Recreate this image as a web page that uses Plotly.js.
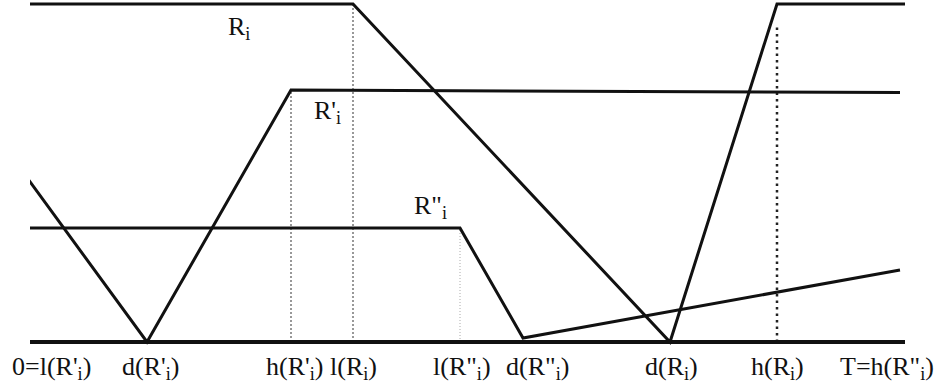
<!DOCTYPE html>
<html>
<head>
<meta charset="utf-8">
<script src="https://cdn.plot.ly/plotly-3.0.1.min.js"></script>
<style>html,body{margin:0;padding:0;background:#fff;}#chart{width:938px;height:385px;}</style>
</head>
<body>
<div id="chart"></div>
<script>
// Event times on the horizontal time axis (arbitrary units)
const eventTimes = [0, 117, 261, 323, 430, 493, 640, 747, 875];
const tickLabels = [
  "0=l(R'<sub>i</sub>)", "d(R'<sub>i</sub>)", "h(R'<sub>i</sub>)", "l(R<sub>i</sub>)",
  "l(R\"<sub>i</sub>)", "d(R\"<sub>i</sub>)", "d(R<sub>i</sub>)", "h(R<sub>i</sub>)",
  "T=h(R\"<sub>i</sub>)"
];

// Series R_i
const rTimes = [0, 323, 640, 747, 875];
const rValues = [338, 338, 0, 338, 338];
// Series R'_i
const rpTimes = [-2, 117, 261, 870];
const rpValues = [163, 0, 252, 249.5];
// Series R''_i
const rppTimes = [0, 430, 493, 870];
const rppValues = [114, 114, 4, 72];

// Dotted guide lines (time, height)
const guideTimes = [261, 323, 430, 747];
const guideHeights = [252, 338, 114, 317];

const seriesNames = ["R<sub>i</sub>", "R'<sub>i</sub>", "R\"<sub>i</sub>"];

const FONT = "'Liberation Serif', 'Times New Roman', Times, serif";

const guideStyles = [
  {color: '#777', width: 1.5, dash: '2px,2px'},
  {color: '#777', width: 1.5, dash: '2px,2px'},
  {color: '#aaa', width: 1, dash: '1px,2px'},
  {color: '#222', width: 2.5, dash: '2.5px,4px'}
];

const traces = [];
guideTimes.forEach((t, i) => {
  traces.push({x: [t, t], y: [0, guideHeights[i]], mode: 'lines', line: guideStyles[i], hoverinfo: 'skip'});
});
traces.push({x: [eventTimes[0], eventTimes[eventTimes.length - 1] + 2], y: [0, 0], mode: 'lines', line: {color: '#111', width: 4}});
traces.push({x: rTimes, y: rValues, mode: 'lines', line: {color: '#111', width: 3}});
traces.push({x: rpTimes, y: rpValues, mode: 'lines', line: {color: '#111', width: 3}});
traces.push({x: rppTimes, y: rppValues, mode: 'lines', line: {color: '#111', width: 3}});

const tickShift = [21, 3, 3, 0, 2, 14, 1, 0, -18];
const annotations = eventTimes.map((t, i) => ({
  x: t, y: 0, xref: 'x', yref: 'y', text: tickLabels[i], showarrow: false,
  xanchor: 'center', yanchor: 'top', xshift: tickShift[i], yshift: -8,
  font: {family: FONT, size: 26, color: '#111'}
}));
// Series labels placed near their curves
const labelPos = [[196, 314], [282, 230], [382, 135]];
seriesNames.forEach((n, i) => {
  annotations.push({x: labelPos[i][0], y: labelPos[i][1], xref: 'x', yref: 'y', text: n,
    showarrow: false, xanchor: 'left', yanchor: 'middle',
    font: {family: FONT, size: 26, color: '#111'}});
});

const layout = {
  width: 938, height: 385,
  margin: {l: 30, r: 33, t: 0, b: 39, pad: 0},
  paper_bgcolor: '#fff', plot_bgcolor: '#fff',
  showlegend: false,
  xaxis: {range: [0, 875], visible: false, fixedrange: true},
  yaxis: {range: [-4, 342], visible: false, fixedrange: true},
  annotations: annotations
};

Plotly.newPlot('chart', traces, layout, {staticPlot: true, displayModeBar: false});
</script>
</body>
</html>
